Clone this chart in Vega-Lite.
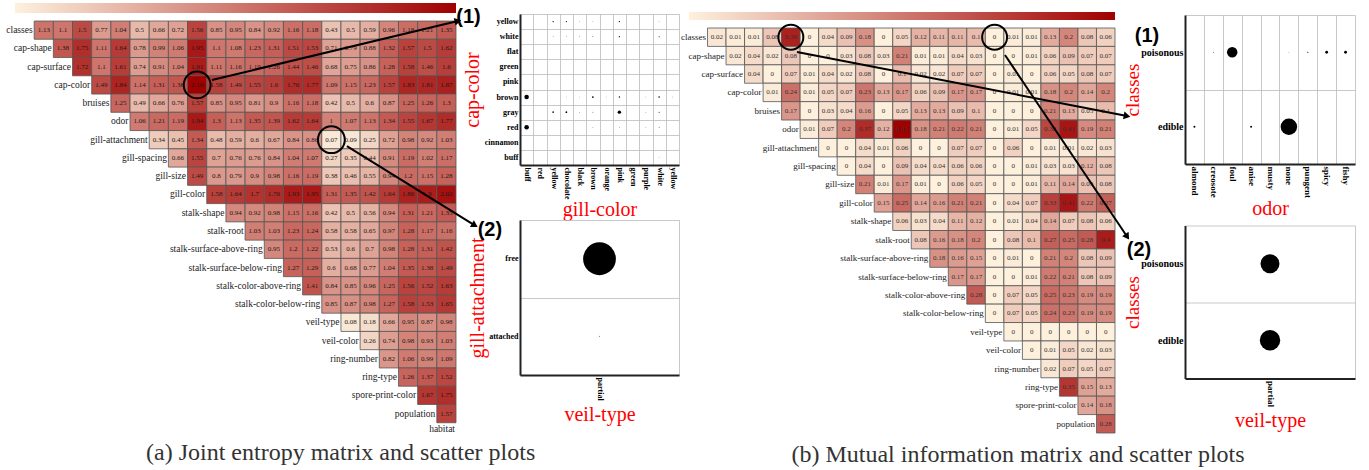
{
"$schema": "https://vega.github.io/schema/vega-lite/v6.json",
"background": "white",
"padding": {"left": 6, "top": 1, "right": 5, "bottom": 2},
"autosize": {"type": "pad"},
"config": {
  "view": {"stroke": null},
  "font": "Liberation Serif",
  "axis": {"labelFont": "Liberation Serif", "labelFontWeight": "bold", "labelColor": "black", "titleFont": "Liberation Serif", "titleFontWeight": "normal", "titleFontSize": 20, "titleColor": "#ff0000", "ticks": false, "domainColor": "#222", "domainWidth": 2, "grid": true, "gridColor": "#bbbbbb", "gridWidth": 0.8, "tickBand": "extent", "labelPadding": 2}
},
"datasets": {
  "names": [{"i":0,"n":"classes"},{"i":1,"n":"cap-shape"},{"i":2,"n":"cap-surface"},{"i":3,"n":"cap-color"},{"i":4,"n":"bruises"},{"i":5,"n":"odor"},{"i":6,"n":"gill-attachment"},{"i":7,"n":"gill-spacing"},{"i":8,"n":"gill-size"},{"i":9,"n":"gill-color"},{"i":10,"n":"stalk-shape"},{"i":11,"n":"stalk-root"},{"i":12,"n":"stalk-surface-above-ring"},{"i":13,"n":"stalk-surface-below-ring"},{"i":14,"n":"stalk-color-above-ring"},{"i":15,"n":"stalk-color-below-ring"},{"i":16,"n":"veil-type"},{"i":17,"n":"veil-color"},{"i":18,"n":"ring-number"},{"i":19,"n":"ring-type"},{"i":20,"n":"spore-print-color"},{"i":21,"n":"population"},{"i":22,"n":"habitat"}],
  "hlA": [{"r":3,"c":9},{"r":6,"c":16}],
  "hlB": [{"r":0,"c":5},{"r":0,"c":16}],
  "barA": [{"lo":0,"hi":2.16}],
  "barB": [{"lo":0,"hi":0.45}],
  "arrA": [{"k":1,"x":10.27,"y":3.23,"x2":23.1,"y2":0.0},{"k":2,"x":17.31,"y":6.85,"x2":23.98,"y2":11.19}],
  "arrB": [{"k":1,"x":5.83,"y":1.3,"x2":23.65,"y2":4.78},{"k":2,"x":17.06,"y":1.47,"x2":23.66,"y2":11.34}],
  "jeA": [
{"r":0,"c":1,"v":1.13},{"r":0,"c":2,"v":1.1},{"r":0,"c":3,"v":1.5},{"r":0,"c":4,"v":0.77},{"r":0,"c":5,"v":1.04},{"r":0,"c":6,"v":0.5},{"r":0,"c":7,"v":0.66},{"r":0,"c":8,"v":0.72},{"r":0,"c":9,"v":1.56},{"r":0,"c":10,"v":0.85},{"r":0,"c":11,"v":0.95},{"r":0,"c":12,"v":0.84},{"r":0,"c":13,"v":0.92},{"r":0,"c":14,"v":1.16},{"r":0,"c":15,"v":1.18},{"r":0,"c":16,"v":0.43},{"r":0,"c":17,"v":0.5},{"r":0,"c":18,"v":0.59},{"r":0,"c":19,"v":0.96},{"r":0,"c":20,"v":1.18},{"r":0,"c":21,"v":1.21},{"r":0,"c":22,"v":1.35},
{"r":1,"c":2,"v":1.38},{"r":1,"c":3,"v":1.75},{"r":1,"c":4,"v":1.11},{"r":1,"c":5,"v":1.64},{"r":1,"c":6,"v":0.78},{"r":1,"c":7,"v":0.99},{"r":1,"c":8,"v":1.06},{"r":1,"c":9,"v":1.95},{"r":1,"c":10,"v":1.1},{"r":1,"c":11,"v":1.08},{"r":1,"c":12,"v":1.23},{"r":1,"c":13,"v":1.31},{"r":1,"c":14,"v":1.51},{"r":1,"c":15,"v":1.53},{"r":1,"c":16,"v":0.71},{"r":1,"c":17,"v":0.79},{"r":1,"c":18,"v":0.88},{"r":1,"c":19,"v":1.32},{"r":1,"c":20,"v":1.57},{"r":1,"c":21,"v":1.5},{"r":1,"c":22,"v":1.62},
{"r":2,"c":3,"v":1.72},{"r":2,"c":4,"v":1.1},{"r":2,"c":5,"v":1.61},{"r":2,"c":6,"v":0.74},{"r":2,"c":7,"v":0.91},{"r":2,"c":8,"v":1.04},{"r":2,"c":9,"v":1.91},{"r":2,"c":10,"v":1.11},{"r":2,"c":11,"v":1.16},{"r":2,"c":12,"v":1.19},{"r":2,"c":13,"v":1.26},{"r":2,"c":14,"v":1.44},{"r":2,"c":15,"v":1.46},{"r":2,"c":16,"v":0.68},{"r":2,"c":17,"v":0.75},{"r":2,"c":18,"v":0.86},{"r":2,"c":19,"v":1.28},{"r":2,"c":20,"v":1.58},{"r":2,"c":21,"v":1.46},{"r":2,"c":22,"v":1.6},
{"r":3,"c":4,"v":1.49},{"r":3,"c":5,"v":1.84},{"r":3,"c":6,"v":1.14},{"r":3,"c":7,"v":1.31},{"r":3,"c":8,"v":1.38},{"r":3,"c":9,"v":2.16},{"r":3,"c":10,"v":1.58},{"r":3,"c":11,"v":1.49},{"r":3,"c":12,"v":1.55},{"r":3,"c":13,"v":1.6},{"r":3,"c":14,"v":1.76},{"r":3,"c":15,"v":1.77},{"r":3,"c":16,"v":1.09},{"r":3,"c":17,"v":1.15},{"r":3,"c":18,"v":1.23},{"r":3,"c":19,"v":1.57},{"r":3,"c":20,"v":1.83},{"r":3,"c":21,"v":1.81},{"r":3,"c":22,"v":1.87},
{"r":4,"c":5,"v":1.25},{"r":4,"c":6,"v":0.49},{"r":4,"c":7,"v":0.66},{"r":4,"c":8,"v":0.76},{"r":4,"c":9,"v":1.57},{"r":4,"c":10,"v":0.85},{"r":4,"c":11,"v":0.95},{"r":4,"c":12,"v":0.81},{"r":4,"c":13,"v":0.9},{"r":4,"c":14,"v":1.16},{"r":4,"c":15,"v":1.18},{"r":4,"c":16,"v":0.42},{"r":4,"c":17,"v":0.5},{"r":4,"c":18,"v":0.6},{"r":4,"c":19,"v":0.87},{"r":4,"c":20,"v":1.25},{"r":4,"c":21,"v":1.26},{"r":4,"c":22,"v":1.3},
{"r":5,"c":6,"v":1.06},{"r":5,"c":7,"v":1.21},{"r":5,"c":8,"v":1.19},{"r":5,"c":9,"v":1.94},{"r":5,"c":10,"v":1.3},{"r":5,"c":11,"v":1.13},{"r":5,"c":12,"v":1.35},{"r":5,"c":13,"v":1.39},{"r":5,"c":14,"v":1.62},{"r":5,"c":15,"v":1.64},{"r":5,"c":16,"v":1},{"r":5,"c":17,"v":1.07},{"r":5,"c":18,"v":1.13},{"r":5,"c":19,"v":1.34},{"r":5,"c":20,"v":1.55},{"r":5,"c":21,"v":1.67},{"r":5,"c":22,"v":1.77},
{"r":6,"c":7,"v":0.34},{"r":6,"c":8,"v":0.45},{"r":6,"c":9,"v":1.34},{"r":6,"c":10,"v":0.48},{"r":6,"c":11,"v":0.59},{"r":6,"c":12,"v":0.6},{"r":6,"c":13,"v":0.67},{"r":6,"c":14,"v":0.84},{"r":6,"c":15,"v":0.86},{"r":6,"c":16,"v":0.07},{"r":6,"c":17,"v":0.09},{"r":6,"c":18,"v":0.25},{"r":6,"c":19,"v":0.72},{"r":6,"c":20,"v":0.98},{"r":6,"c":21,"v":0.92},{"r":6,"c":22,"v":1.03},
{"r":7,"c":8,"v":0.66},{"r":7,"c":9,"v":1.55},{"r":7,"c":10,"v":0.7},{"r":7,"c":11,"v":0.76},{"r":7,"c":12,"v":0.76},{"r":7,"c":13,"v":0.84},{"r":7,"c":14,"v":1.04},{"r":7,"c":15,"v":1.07},{"r":7,"c":16,"v":0.27},{"r":7,"c":17,"v":0.35},{"r":7,"c":18,"v":0.44},{"r":7,"c":19,"v":0.91},{"r":7,"c":20,"v":1.19},{"r":7,"c":21,"v":1.02},{"r":7,"c":22,"v":1.17},
{"r":8,"c":9,"v":1.49},{"r":8,"c":10,"v":0.8},{"r":8,"c":11,"v":0.79},{"r":8,"c":12,"v":0.9},{"r":8,"c":13,"v":0.98},{"r":8,"c":14,"v":1.16},{"r":8,"c":15,"v":1.19},{"r":8,"c":16,"v":0.38},{"r":8,"c":17,"v":0.46},{"r":8,"c":18,"v":0.55},{"r":8,"c":19,"v":0.94},{"r":8,"c":20,"v":1.2},{"r":8,"c":21,"v":1.15},{"r":8,"c":22,"v":1.28},
{"r":9,"c":10,"v":1.58},{"r":9,"c":11,"v":1.64},{"r":9,"c":12,"v":1.7},{"r":9,"c":13,"v":1.76},{"r":9,"c":14,"v":1.93},{"r":9,"c":15,"v":1.95},{"r":9,"c":16,"v":1.31},{"r":9,"c":17,"v":1.35},{"r":9,"c":18,"v":1.42},{"r":9,"c":19,"v":1.64},{"r":9,"c":20,"v":1.86},{"r":9,"c":21,"v":1.9},{"r":9,"c":22,"v":2.02},
{"r":10,"c":11,"v":0.94},{"r":10,"c":12,"v":0.92},{"r":10,"c":13,"v":0.98},{"r":10,"c":14,"v":1.15},{"r":10,"c":15,"v":1.16},{"r":10,"c":16,"v":0.42},{"r":10,"c":17,"v":0.5},{"r":10,"c":18,"v":0.56},{"r":10,"c":19,"v":0.94},{"r":10,"c":20,"v":1.31},{"r":10,"c":21,"v":1.21},{"r":10,"c":22,"v":1.35},
{"r":11,"c":12,"v":1.03},{"r":11,"c":13,"v":1.03},{"r":11,"c":14,"v":1.23},{"r":11,"c":15,"v":1.24},{"r":11,"c":16,"v":0.58},{"r":11,"c":17,"v":0.58},{"r":11,"c":18,"v":0.65},{"r":11,"c":19,"v":0.97},{"r":11,"c":20,"v":1.28},{"r":11,"c":21,"v":1.17},{"r":11,"c":22,"v":1.16},
{"r":12,"c":13,"v":0.95},{"r":12,"c":14,"v":1.2},{"r":12,"c":15,"v":1.22},{"r":12,"c":16,"v":0.53},{"r":12,"c":17,"v":0.6},{"r":12,"c":18,"v":0.7},{"r":12,"c":19,"v":0.98},{"r":12,"c":20,"v":1.28},{"r":12,"c":21,"v":1.31},{"r":12,"c":22,"v":1.42},
{"r":13,"c":14,"v":1.27},{"r":13,"c":15,"v":1.29},{"r":13,"c":16,"v":0.6},{"r":13,"c":17,"v":0.68},{"r":13,"c":18,"v":0.77},{"r":13,"c":19,"v":1.04},{"r":13,"c":20,"v":1.35},{"r":13,"c":21,"v":1.38},{"r":13,"c":22,"v":1.49},
{"r":14,"c":15,"v":1.41},{"r":14,"c":16,"v":0.84},{"r":14,"c":17,"v":0.85},{"r":14,"c":18,"v":0.96},{"r":14,"c":19,"v":1.25},{"r":14,"c":20,"v":1.56},{"r":14,"c":21,"v":1.52},{"r":14,"c":22,"v":1.63},
{"r":15,"c":16,"v":0.85},{"r":15,"c":17,"v":0.87},{"r":15,"c":18,"v":0.98},{"r":15,"c":19,"v":1.27},{"r":15,"c":20,"v":1.58},{"r":15,"c":21,"v":1.53},{"r":15,"c":22,"v":1.65},
{"r":16,"c":17,"v":0.08},{"r":16,"c":18,"v":0.18},{"r":16,"c":19,"v":0.66},{"r":16,"c":20,"v":0.95},{"r":16,"c":21,"v":0.87},{"r":16,"c":22,"v":0.98},
{"r":17,"c":18,"v":0.26},{"r":17,"c":19,"v":0.74},{"r":17,"c":20,"v":0.98},{"r":17,"c":21,"v":0.93},{"r":17,"c":22,"v":1.03},
{"r":18,"c":19,"v":0.82},{"r":18,"c":20,"v":1.06},{"r":18,"c":21,"v":0.99},{"r":18,"c":22,"v":1.09},
{"r":19,"c":20,"v":1.26},{"r":19,"c":21,"v":1.37},{"r":19,"c":22,"v":1.52},
{"r":20,"c":21,"v":1.67},{"r":20,"c":22,"v":1.75},
{"r":21,"c":22,"v":1.57}
  ],
  "miB": [
{"r":0,"c":1,"v":0.02},{"r":0,"c":2,"v":0.01},{"r":0,"c":3,"v":0.01},{"r":0,"c":4,"v":0.08},{"r":0,"c":5,"v":0.39},{"r":0,"c":6,"v":0},{"r":0,"c":7,"v":0.04},{"r":0,"c":8,"v":0.09},{"r":0,"c":9,"v":0.18},{"r":0,"c":10,"v":0},{"r":0,"c":11,"v":0.05},{"r":0,"c":12,"v":0.12},{"r":0,"c":13,"v":0.11},{"r":0,"c":14,"v":0.11},{"r":0,"c":15,"v":0.1},{"r":0,"c":16,"v":0},{"r":0,"c":17,"v":0.01},{"r":0,"c":18,"v":0.01},{"r":0,"c":19,"v":0.13},{"r":0,"c":20,"v":0.2},{"r":0,"c":21,"v":0.08},{"r":0,"c":22,"v":0.06},
{"r":1,"c":2,"v":0.02},{"r":1,"c":3,"v":0.04},{"r":1,"c":4,"v":0.02},{"r":1,"c":5,"v":0.08},{"r":1,"c":6,"v":0},{"r":1,"c":7,"v":0},{"r":1,"c":8,"v":0.03},{"r":1,"c":9,"v":0.08},{"r":1,"c":10,"v":0.03},{"r":1,"c":11,"v":0.21},{"r":1,"c":12,"v":0.01},{"r":1,"c":13,"v":0.01},{"r":1,"c":14,"v":0.04},{"r":1,"c":15,"v":0.03},{"r":1,"c":16,"v":0},{"r":1,"c":17,"v":0},{"r":1,"c":18,"v":0.01},{"r":1,"c":19,"v":0.06},{"r":1,"c":20,"v":0.09},{"r":1,"c":21,"v":0.07},{"r":1,"c":22,"v":0.07},
{"r":2,"c":3,"v":0.04},{"r":2,"c":4,"v":0},{"r":2,"c":5,"v":0.07},{"r":2,"c":6,"v":0.01},{"r":2,"c":7,"v":0.04},{"r":2,"c":8,"v":0.02},{"r":2,"c":9,"v":0.08},{"r":2,"c":10,"v":0},{"r":2,"c":11,"v":0.1},{"r":2,"c":12,"v":0.02},{"r":2,"c":13,"v":0.02},{"r":2,"c":14,"v":0.07},{"r":2,"c":15,"v":0.07},{"r":2,"c":16,"v":0},{"r":2,"c":17,"v":0.01},{"r":2,"c":18,"v":0},{"r":2,"c":19,"v":0.06},{"r":2,"c":20,"v":0.05},{"r":2,"c":21,"v":0.08},{"r":2,"c":22,"v":0.07},
{"r":3,"c":4,"v":0.01},{"r":3,"c":5,"v":0.24},{"r":3,"c":6,"v":0.01},{"r":3,"c":7,"v":0.05},{"r":3,"c":8,"v":0.07},{"r":3,"c":9,"v":0.23},{"r":3,"c":10,"v":0.13},{"r":3,"c":11,"v":0.17},{"r":3,"c":12,"v":0.06},{"r":3,"c":13,"v":0.09},{"r":3,"c":14,"v":0.17},{"r":3,"c":15,"v":0.17},{"r":3,"c":16,"v":0},{"r":3,"c":17,"v":0.01},{"r":3,"c":18,"v":0.01},{"r":3,"c":19,"v":0.18},{"r":3,"c":20,"v":0.2},{"r":3,"c":21,"v":0.14},{"r":3,"c":22,"v":0.2},
{"r":4,"c":5,"v":0.17},{"r":4,"c":6,"v":0},{"r":4,"c":7,"v":0.03},{"r":4,"c":8,"v":0.04},{"r":4,"c":9,"v":0.16},{"r":4,"c":10,"v":0},{"r":4,"c":11,"v":0.05},{"r":4,"c":12,"v":0.13},{"r":4,"c":13,"v":0.13},{"r":4,"c":14,"v":0.09},{"r":4,"c":15,"v":0.1},{"r":4,"c":16,"v":0},{"r":4,"c":17,"v":0},{"r":4,"c":18,"v":0},{"r":4,"c":19,"v":0.21},{"r":4,"c":20,"v":0.13},{"r":4,"c":21,"v":0.05},{"r":4,"c":22,"v":0.1},
{"r":5,"c":6,"v":0.01},{"r":5,"c":7,"v":0.07},{"r":5,"c":8,"v":0.2},{"r":5,"c":9,"v":0.37},{"r":5,"c":10,"v":0.12},{"r":5,"c":11,"v":0.45},{"r":5,"c":12,"v":0.18},{"r":5,"c":13,"v":0.21},{"r":5,"c":14,"v":0.22},{"r":5,"c":15,"v":0.21},{"r":5,"c":16,"v":0},{"r":5,"c":17,"v":0.01},{"r":5,"c":18,"v":0.05},{"r":5,"c":19,"v":0.32},{"r":5,"c":20,"v":0.41},{"r":5,"c":21,"v":0.19},{"r":5,"c":22,"v":0.21},
{"r":6,"c":7,"v":0},{"r":6,"c":8,"v":0},{"r":6,"c":9,"v":0.04},{"r":6,"c":10,"v":0.01},{"r":6,"c":11,"v":0.06},{"r":6,"c":12,"v":0},{"r":6,"c":13,"v":0},{"r":6,"c":14,"v":0.07},{"r":6,"c":15,"v":0.07},{"r":6,"c":16,"v":0},{"r":6,"c":17,"v":0.06},{"r":6,"c":18,"v":0},{"r":6,"c":19,"v":0.01},{"r":6,"c":20,"v":0.01},{"r":6,"c":21,"v":0.02},{"r":6,"c":22,"v":0.03},
{"r":7,"c":8,"v":0},{"r":7,"c":9,"v":0.04},{"r":7,"c":10,"v":0},{"r":7,"c":11,"v":0.09},{"r":7,"c":12,"v":0.04},{"r":7,"c":13,"v":0.04},{"r":7,"c":14,"v":0.06},{"r":7,"c":15,"v":0.06},{"r":7,"c":16,"v":0},{"r":7,"c":17,"v":0},{"r":7,"c":18,"v":0.01},{"r":7,"c":19,"v":0.03},{"r":7,"c":20,"v":0.03},{"r":7,"c":21,"v":0.12},{"r":7,"c":22,"v":0.08},
{"r":8,"c":9,"v":0.21},{"r":8,"c":10,"v":0.01},{"r":8,"c":11,"v":0.17},{"r":8,"c":12,"v":0.01},{"r":8,"c":13,"v":0},{"r":8,"c":14,"v":0.06},{"r":8,"c":15,"v":0.05},{"r":8,"c":16,"v":0},{"r":8,"c":17,"v":0},{"r":8,"c":18,"v":0.01},{"r":8,"c":19,"v":0.11},{"r":8,"c":20,"v":0.14},{"r":8,"c":21,"v":0.09},{"r":8,"c":22,"v":0.08},
{"r":9,"c":10,"v":0.15},{"r":9,"c":11,"v":0.25},{"r":9,"c":12,"v":0.14},{"r":9,"c":13,"v":0.16},{"r":9,"c":14,"v":0.21},{"r":9,"c":15,"v":0.21},{"r":9,"c":16,"v":0},{"r":9,"c":17,"v":0.04},{"r":9,"c":18,"v":0.07},{"r":9,"c":19,"v":0.33},{"r":9,"c":20,"v":0.41},{"r":9,"c":21,"v":0.22},{"r":9,"c":22,"v":0.27},
{"r":10,"c":11,"v":0.06},{"r":10,"c":12,"v":0.03},{"r":10,"c":13,"v":0.04},{"r":10,"c":14,"v":0.11},{"r":10,"c":15,"v":0.12},{"r":10,"c":16,"v":0},{"r":10,"c":17,"v":0.01},{"r":10,"c":18,"v":0.04},{"r":10,"c":19,"v":0.14},{"r":10,"c":20,"v":0.07},{"r":10,"c":21,"v":0.08},{"r":10,"c":22,"v":0.06},
{"r":11,"c":12,"v":0.08},{"r":11,"c":13,"v":0.16},{"r":11,"c":14,"v":0.18},{"r":11,"c":15,"v":0.2},{"r":11,"c":16,"v":0},{"r":11,"c":17,"v":0.08},{"r":11,"c":18,"v":0.1},{"r":11,"c":19,"v":0.27},{"r":11,"c":20,"v":0.25},{"r":11,"c":21,"v":0.28},{"r":11,"c":22,"v":0.4},
{"r":12,"c":13,"v":0.18},{"r":12,"c":14,"v":0.16},{"r":12,"c":15,"v":0.15},{"r":12,"c":16,"v":0},{"r":12,"c":17,"v":0.01},{"r":12,"c":18,"v":0},{"r":12,"c":19,"v":0.21},{"r":12,"c":20,"v":0.2},{"r":12,"c":21,"v":0.08},{"r":12,"c":22,"v":0.09},
{"r":13,"c":14,"v":0.17},{"r":13,"c":15,"v":0.17},{"r":13,"c":16,"v":0},{"r":13,"c":17,"v":0},{"r":13,"c":18,"v":0.01},{"r":13,"c":19,"v":0.22},{"r":13,"c":20,"v":0.21},{"r":13,"c":21,"v":0.08},{"r":13,"c":22,"v":0.09},
{"r":14,"c":15,"v":0.28},{"r":14,"c":16,"v":0},{"r":14,"c":17,"v":0.07},{"r":14,"c":18,"v":0.05},{"r":14,"c":19,"v":0.25},{"r":14,"c":20,"v":0.23},{"r":14,"c":21,"v":0.19},{"r":14,"c":22,"v":0.19},
{"r":15,"c":16,"v":0},{"r":15,"c":17,"v":0.07},{"r":15,"c":18,"v":0.05},{"r":15,"c":19,"v":0.24},{"r":15,"c":20,"v":0.23},{"r":15,"c":21,"v":0.19},{"r":15,"c":22,"v":0.19},
{"r":16,"c":17,"v":0},{"r":16,"c":18,"v":0},{"r":16,"c":19,"v":0},{"r":16,"c":20,"v":0},{"r":16,"c":21,"v":0},{"r":16,"c":22,"v":0},
{"r":17,"c":18,"v":0},{"r":17,"c":19,"v":0.01},{"r":17,"c":20,"v":0.05},{"r":17,"c":21,"v":0.02},{"r":17,"c":22,"v":0.03},
{"r":18,"c":19,"v":0.02},{"r":18,"c":20,"v":0.07},{"r":18,"c":21,"v":0.05},{"r":18,"c":22,"v":0.07},
{"r":19,"c":20,"v":0.35},{"r":19,"c":21,"v":0.15},{"r":19,"c":22,"v":0.13},
{"r":20,"c":21,"v":0.14},{"r":20,"c":22,"v":0.18},
{"r":21,"c":22,"v":0.28}
  ],
  "a1": [
{"cc":"yellow","g":"yellow","n":320},{"cc":"yellow","g":"chocolate","n":300},{"cc":"yellow","g":"black","n":150},{"cc":"yellow","g":"brown","n":150},{"cc":"yellow","g":"pink","n":320},{"cc":"yellow","g":"white","n":150},
{"cc":"white","g":"yellow","n":150},{"cc":"white","g":"chocolate","n":150},{"cc":"white","g":"black","n":150},{"cc":"white","g":"brown","n":200},{"cc":"white","g":"pink","n":300},{"cc":"white","g":"white","n":250},
{"cc":"brown","g":"buff","n":1100},{"cc":"brown","g":"chocolate","n":150},{"cc":"brown","g":"black","n":150},{"cc":"brown","g":"brown","n":420},{"cc":"brown","g":"orange","n":150},{"cc":"brown","g":"pink","n":330},{"cc":"brown","g":"purple","n":150},{"cc":"brown","g":"white","n":380},{"cc":"brown","g":"yellow ","n":150},
{"cc":"gray","g":"yellow","n":400},{"cc":"gray","g":"chocolate","n":420},{"cc":"gray","g":"black","n":150},{"cc":"gray","g":"brown","n":200},{"cc":"gray","g":"pink","n":820},{"cc":"gray","g":"purple","n":150},{"cc":"gray","g":"white","n":250},
{"cc":"red","g":"buff","n":1100},{"cc":"red","g":"brown","n":180},{"cc":"red","g":"pink","n":180},{"cc":"red","g":"purple","n":150},{"cc":"red","g":"white","n":200},
{"cc":"buff","g":"white","n":120}
  ],
  "a2": [{"ga":"free","vt":"partial","n":7914},{"ga":"attached","vt":"partial","n":210}],
  "b1": [{"cl":"edible","o":"almond","n":400},{"cl":"edible","o":"anise","n":400},{"cl":"edible","o":"none","n":3408},{"cl":"poisonous","o":"creosote","n":192},{"cl":"poisonous","o":"fishy","n":576},{"cl":"poisonous","o":"foul","n":2160},{"cl":"poisonous","o":"musty","n":36},{"cl":"poisonous","o":"none","n":120},{"cl":"poisonous","o":"pungent","n":256},{"cl":"poisonous","o":"spicy","n":576}],
  "b2": [{"cl":"poisonous","vt":"partial","n":3916},{"cl":"edible","vt":"partial","n":4208}]
},
"spacing": 2,
"resolve": {"scale": {"color": "independent", "size": "independent", "x": "independent", "y": "independent"}},
"hconcat": [
  {
    "title": {"text": "(a) Joint entropy matrix and scatter plots", "orient": "bottom", "anchor": "middle", "font": "Liberation Serif", "fontSize": 24, "fontWeight": "normal", "color": "#333333", "offset": 0, "dx": -2},
    "spacing": -22,
    "resolve": {"scale": {"color": "independent", "size": "independent", "x": "independent", "y": "independent"}},
    "hconcat": [
      {
        "spacing": 0,
        "resolve": {"scale": {"color": "independent", "x": "independent", "y": "independent"}},
        "vconcat": [
          {"width": 1, "height": 2, "view": {"fill": "white", "stroke": null}, "data": {"values": []}, "mark": "point"},
          {
            "spacing": 5,
            "resolve": {"scale": {"color": "independent", "x": "independent", "y": "independent"}},
            "vconcat": [
              {
                "width": 441, "height": 10,
                "data": {"name": "barA"},
                "mark": {"type": "rect", "color": {"gradient": "linear", "x1": 0, "x2": 1, "y1": 0, "y2": 0, "stops": [{"offset": 0, "color": "#fdf1de"}, {"offset": 1, "color": "#a00000"}]}},
                "encoding": {
                  "x": {"field": "lo", "type": "quantitative", "scale": {"domain": [0, 2.16], "nice": false, "zero": false}, "axis": null},
                  "x2": {"field": "hi"}
                }
              },
              {
                "width": 441, "height": 420,
                "resolve": {"scale": {"x": "independent", "y": "independent"}},
                "layer": [
                  {
                    "data": {"name": "jeA"},
                    "mark": {"type": "rect", "stroke": "#555555", "strokeWidth": 0.8},
                    "encoding": {
                      "x": {"field": "c", "type": "ordinal", "scale": {"type": "band", "domain": [0,1,2,3,4,5,6,7,8,9,10,11,12,13,14,15,16,17,18,19,20,21,22], "paddingInner": 0, "paddingOuter": 0}, "axis": null},
                      "y": {"field": "r", "type": "ordinal", "scale": {"type": "band", "domain": [0,1,2,3,4,5,6,7,8,9,10,11,12,13,14,15,16,17,18,19,20,21,22], "paddingInner": 0, "paddingOuter": 0}, "axis": null},
                      "color": {"field": "v", "type": "quantitative", "scale": {"domain": [0, 2.16], "range": ["#fdf1de", "#a00000"], "interpolate": "rgb"}, "legend": null}
                    }
                  },
                  {
                    "data": {"name": "jeA"},
                    "mark": {"type": "text", "font": "Liberation Serif", "fontSize": 7, "color": "#1a1a1a"},
                    "encoding": {
                      "x": {"field": "c", "type": "ordinal", "scale": {"type": "band", "domain": [0,1,2,3,4,5,6,7,8,9,10,11,12,13,14,15,16,17,18,19,20,21,22], "paddingInner": 0, "paddingOuter": 0}, "axis": null},
                      "y": {"field": "r", "type": "ordinal", "scale": {"type": "band", "domain": [0,1,2,3,4,5,6,7,8,9,10,11,12,13,14,15,16,17,18,19,20,21,22], "paddingInner": 0, "paddingOuter": 0}, "axis": null},
                      "text": {"field": "v", "type": "quantitative", "format": "~g"}
                    }
                  },
                  {
                    "data": {"name": "names"},
                    "transform": [{"filter": "datum.i < 22"}],
                    "mark": {"type": "text", "align": "right", "baseline": "middle", "dx": -1.5, "font": "Liberation Serif", "fontSize": 9.5, "color": "#222222"},
                    "encoding": {
                      "x": {"field": "i", "type": "ordinal", "bandPosition": 1, "scale": {"type": "band", "domain": [0,1,2,3,4,5,6,7,8,9,10,11,12,13,14,15,16,17,18,19,20,21,22], "paddingInner": 0, "paddingOuter": 0}, "axis": null},
                      "y": {"field": "i", "type": "ordinal", "scale": {"type": "band", "domain": [0,1,2,3,4,5,6,7,8,9,10,11,12,13,14,15,16,17,18,19,20,21,22], "paddingInner": 0, "paddingOuter": 0}, "axis": null},
                      "text": {"field": "n", "type": "nominal"}
                    }
                  },
                  {
                    "data": {"name": "names"},
                    "transform": [{"filter": "datum.i == 22"}],
                    "mark": {"type": "text", "align": "right", "baseline": "top", "dx": -1, "dy": 1, "font": "Liberation Serif", "fontSize": 9.5, "color": "#222222"},
                    "encoding": {
                      "x": {"field": "i", "type": "ordinal", "bandPosition": 1, "scale": {"type": "band", "domain": [0,1,2,3,4,5,6,7,8,9,10,11,12,13,14,15,16,17,18,19,20,21,22], "paddingInner": 0, "paddingOuter": 0}, "axis": null},
                      "y": {"field": "i", "type": "ordinal", "bandPosition": 0, "scale": {"type": "band", "domain": [0,1,2,3,4,5,6,7,8,9,10,11,12,13,14,15,16,17,18,19,20,21,22], "paddingInner": 0, "paddingOuter": 0}, "axis": null},
                      "text": {"field": "n", "type": "nominal"}
                    }
                  },
                  {
                    "data": {"name": "hlA"},
                    "mark": {"type": "point", "shape": "circle", "filled": false, "color": "black", "strokeWidth": 2, "size": 720, "opacity": 1},
                    "encoding": {
                      "x": {"field": "c", "type": "ordinal", "scale": {"type": "band", "domain": [0,1,2,3,4,5,6,7,8,9,10,11,12,13,14,15,16,17,18,19,20,21,22], "paddingInner": 0, "paddingOuter": 0}, "axis": null},
                      "y": {"field": "r", "type": "ordinal", "scale": {"type": "band", "domain": [0,1,2,3,4,5,6,7,8,9,10,11,12,13,14,15,16,17,18,19,20,21,22], "paddingInner": 0, "paddingOuter": 0}, "axis": null}
                    }
                  },
                  {
                    "data": {"name": "arrA"},
                    "mark": {"type": "rule", "color": "black", "strokeWidth": 2},
                    "encoding": {
                      "x": {"field": "x", "type": "quantitative", "scale": {"domain": [0, 23], "nice": false, "zero": false}, "axis": null},
                      "y": {"field": "y", "type": "quantitative", "scale": {"domain": [0, 23], "nice": false, "zero": false, "reverse": true}, "axis": null},
                      "x2": {"field": "x2"},
                      "y2": {"field": "y2"}
                    }
                  },
                  {
                    "data": {"name": "arrA"},
                    "transform": [{"filter": "datum.k == 1"}],
                    "mark": {"type": "point", "shape": "triangle-up", "filled": true, "color": "black", "size": 60, "angle": 76.7, "opacity": 1},
                    "encoding": {
                      "x": {"field": "x2", "type": "quantitative", "scale": {"domain": [0, 23], "nice": false, "zero": false}, "axis": null},
                      "y": {"field": "y2", "type": "quantitative", "scale": {"domain": [0, 23], "nice": false, "zero": false, "reverse": true}, "axis": null}
                    }
                  },
                  {
                    "data": {"name": "arrA"},
                    "transform": [{"filter": "datum.k == 2"}],
                    "mark": {"type": "point", "shape": "triangle-up", "filled": true, "color": "black", "size": 60, "angle": 120.8, "opacity": 1},
                    "encoding": {
                      "x": {"field": "x2", "type": "quantitative", "scale": {"domain": [0, 23], "nice": false, "zero": false}, "axis": null},
                      "y": {"field": "y2", "type": "quantitative", "scale": {"domain": [0, 23], "nice": false, "zero": false, "reverse": true}, "axis": null}
                    }
                  }
                ]
              }
            ]
          }
        ]
      },
      {
        "spacing": 0,
        "resolve": {"scale": {"size": "independent", "x": "independent", "y": "independent"}},
        "vconcat": [
          {"width": 1, "height": 5.5, "view": {"fill": "white", "stroke": null}, "data": {"values": []}, "mark": "point"},
          {
            "spacing": -4,
            "resolve": {"scale": {"size": "independent", "x": "independent", "y": "independent"}},
            "vconcat": [
              {
                "width": 159, "height": 151,
                "title": {"text": "(1)", "anchor": "start", "font": "Liberation Sans", "fontSize": 20, "fontWeight": "bold", "color": "black", "offset": -17, "dx": -6},
                "data": {"name": "a1"},
                "mark": {"type": "circle", "color": "black", "opacity": 1},
                "encoding": {
                  "x": {"field": "g", "type": "nominal", "scale": {"type": "band", "domain": ["buff","red","yellow","chocolate","black","brown","orange","pink","green","purple","white","yellow "], "paddingInner": 0, "paddingOuter": 0}, "axis": {"title": "gill-color", "labelAngle": 90, "labelFontSize": 8, "titlePadding": 1}},
                  "y": {"field": "cc", "type": "nominal", "scale": {"type": "band", "domain": ["yellow","white","flat","green","pink","brown","gray","red","cinnamon","buff"], "paddingInner": 0, "paddingOuter": 0}, "axis": {"title": "cap-color", "labelFontSize": 8, "titlePadding": 2}},
                  "size": {"field": "n", "type": "quantitative", "scale": {"type": "pow", "exponent": 2, "domain": [0, 8124], "range": [0, 1134]}, "legend": null}
                }
              },
              {
                "width": 159, "height": 155,
                "title": {"text": "(2)", "anchor": "start", "font": "Liberation Sans", "fontSize": 20, "fontWeight": "bold", "color": "black", "offset": -24, "dx": 10},
                "data": {"name": "a2"},
                "mark": {"type": "circle", "color": "black", "opacity": 1},
                "encoding": {
                  "x": {"field": "vt", "type": "nominal", "scale": {"type": "band", "domain": ["partial"], "paddingInner": 0, "paddingOuter": 0}, "axis": {"title": "veil-type", "labelAngle": 90, "labelFontSize": 8, "titlePadding": 4}},
                  "y": {"field": "ga", "type": "nominal", "scale": {"type": "band", "domain": ["free","attached"], "paddingInner": 0, "paddingOuter": 0}, "axis": {"title": "gill-attachment", "labelFontSize": 8, "titlePadding": 1}},
                  "size": {"field": "n", "type": "quantitative", "scale": {"type": "pow", "exponent": 2, "domain": [0, 8124], "range": [0, 1134]}, "legend": null}
                }
              }
            ]
          }
        ]
      }
    ]
  },
  {
    "title": {"text": "(b) Mutual information matrix and scatter plots", "orient": "bottom", "anchor": "middle", "font": "Liberation Serif", "fontSize": 24, "fontWeight": "normal", "color": "#333333", "offset": 10},
    "spacing": -8,
    "resolve": {"scale": {"color": "independent", "size": "independent", "x": "independent", "y": "independent"}},
    "hconcat": [
      {
        "spacing": 0,
        "resolve": {"scale": {"color": "independent", "x": "independent", "y": "independent"}},
        "vconcat": [
          {"width": 1, "height": 11, "view": {"fill": "white", "stroke": null}, "data": {"values": []}, "mark": "point"},
          {
            "spacing": 0,
            "resolve": {"scale": {"color": "independent", "x": "independent", "y": "independent"}},
            "vconcat": [
              {
                "width": 426, "height": 8,
                "data": {"name": "barB"},
                "mark": {"type": "rect", "color": {"gradient": "linear", "x1": 0, "x2": 1, "y1": 0, "y2": 0, "stops": [{"offset": 0, "color": "#fdf1de"}, {"offset": 1, "color": "#a00000"}]}},
                "encoding": {
                  "x": {"field": "lo", "type": "quantitative", "scale": {"domain": [0, 0.45], "nice": false, "zero": false}, "axis": null},
                  "x2": {"field": "hi"}
                }
              },
              {
                "width": 426, "height": 405,
                "resolve": {"scale": {"x": "independent", "y": "independent"}},
                "layer": [
                  {
                    "data": {"name": "miB"},
                    "mark": {"type": "rect", "stroke": "#555555", "strokeWidth": 0.8},
                    "encoding": {
                      "x": {"field": "c", "type": "ordinal", "scale": {"type": "band", "domain": [0,1,2,3,4,5,6,7,8,9,10,11,12,13,14,15,16,17,18,19,20,21,22], "paddingInner": 0, "paddingOuter": 0}, "axis": null},
                      "y": {"field": "r", "type": "ordinal", "scale": {"type": "band", "domain": [0,1,2,3,4,5,6,7,8,9,10,11,12,13,14,15,16,17,18,19,20,21], "paddingInner": 0, "paddingOuter": 0}, "axis": null},
                      "color": {"field": "v", "type": "quantitative", "scale": {"domain": [0, 0.45], "range": ["#fdf1de", "#a00000"], "interpolate": "rgb"}, "legend": null}
                    }
                  },
                  {
                    "data": {"name": "miB"},
                    "mark": {"type": "text", "font": "Liberation Serif", "fontSize": 7, "color": "#333333"},
                    "encoding": {
                      "x": {"field": "c", "type": "ordinal", "scale": {"type": "band", "domain": [0,1,2,3,4,5,6,7,8,9,10,11,12,13,14,15,16,17,18,19,20,21,22], "paddingInner": 0, "paddingOuter": 0}, "axis": null},
                      "y": {"field": "r", "type": "ordinal", "scale": {"type": "band", "domain": [0,1,2,3,4,5,6,7,8,9,10,11,12,13,14,15,16,17,18,19,20,21], "paddingInner": 0, "paddingOuter": 0}, "axis": null},
                      "text": {"field": "v", "type": "quantitative", "format": "~g"}
                    }
                  },
                  {
                    "data": {"name": "names"},
                    "transform": [{"filter": "datum.i < 22"}],
                    "mark": {"type": "text", "align": "right", "baseline": "middle", "dx": -1.5, "font": "Liberation Serif", "fontSize": 9, "color": "#222222"},
                    "encoding": {
                      "x": {"field": "i", "type": "ordinal", "bandPosition": 1, "scale": {"type": "band", "domain": [0,1,2,3,4,5,6,7,8,9,10,11,12,13,14,15,16,17,18,19,20,21,22], "paddingInner": 0, "paddingOuter": 0}, "axis": null},
                      "y": {"field": "i", "type": "ordinal", "scale": {"type": "band", "domain": [0,1,2,3,4,5,6,7,8,9,10,11,12,13,14,15,16,17,18,19,20,21], "paddingInner": 0, "paddingOuter": 0}, "axis": null},
                      "text": {"field": "n", "type": "nominal"}
                    }
                  },
                  {
                    "data": {"name": "hlB"},
                    "mark": {"type": "point", "shape": "circle", "filled": false, "color": "black", "strokeWidth": 2, "size": 620, "opacity": 1},
                    "encoding": {
                      "x": {"field": "c", "type": "ordinal", "scale": {"type": "band", "domain": [0,1,2,3,4,5,6,7,8,9,10,11,12,13,14,15,16,17,18,19,20,21,22], "paddingInner": 0, "paddingOuter": 0}, "axis": null},
                      "y": {"field": "r", "type": "ordinal", "scale": {"type": "band", "domain": [0,1,2,3,4,5,6,7,8,9,10,11,12,13,14,15,16,17,18,19,20,21], "paddingInner": 0, "paddingOuter": 0}, "axis": null}
                    }
                  },
                  {
                    "data": {"name": "arrB"},
                    "mark": {"type": "rule", "color": "black", "strokeWidth": 2},
                    "encoding": {
                      "x": {"field": "x", "type": "quantitative", "scale": {"domain": [0, 23], "nice": false, "zero": false}, "axis": null},
                      "y": {"field": "y", "type": "quantitative", "scale": {"domain": [0, 22], "nice": false, "zero": false, "reverse": true}, "axis": null},
                      "x2": {"field": "x2"},
                      "y2": {"field": "y2"}
                    }
                  },
                  {
                    "data": {"name": "arrB"},
                    "transform": [{"filter": "datum.k == 1"}],
                    "mark": {"type": "point", "shape": "triangle-up", "filled": true, "color": "black", "size": 60, "angle": 100.9, "opacity": 1},
                    "encoding": {
                      "x": {"field": "x2", "type": "quantitative", "scale": {"domain": [0, 23], "nice": false, "zero": false}, "axis": null},
                      "y": {"field": "y2", "type": "quantitative", "scale": {"domain": [0, 22], "nice": false, "zero": false, "reverse": true}, "axis": null}
                    }
                  },
                  {
                    "data": {"name": "arrB"},
                    "transform": [{"filter": "datum.k == 2"}],
                    "mark": {"type": "point", "shape": "triangle-up", "filled": true, "color": "black", "size": 60, "angle": 146.2, "opacity": 1},
                    "encoding": {
                      "x": {"field": "x2", "type": "quantitative", "scale": {"domain": [0, 23], "nice": false, "zero": false}, "axis": null},
                      "y": {"field": "y2", "type": "quantitative", "scale": {"domain": [0, 22], "nice": false, "zero": false, "reverse": true}, "axis": null}
                    }
                  }
                ]
              }
            ]
          }
        ]
      },
      {
        "spacing": 0,
        "resolve": {"scale": {"size": "independent", "x": "independent", "y": "independent"}},
        "vconcat": [
          {"width": 1, "height": 8.5, "view": {"fill": "white", "stroke": null}, "data": {"values": []}, "mark": "point"},
          {
            "spacing": 1.5,
            "resolve": {"scale": {"size": "independent", "x": "independent", "y": "independent"}},
            "vconcat": [
              {
                "width": 170, "height": 149,
                "title": {"text": "(1)", "anchor": "start", "font": "Liberation Sans", "fontSize": 20, "fontWeight": "bold", "color": "black", "offset": -35.5, "dx": 11},
                "data": {"name": "b1"},
                "mark": {"type": "circle", "color": "black", "opacity": 1},
                "encoding": {
                  "x": {"field": "o", "type": "nominal", "scale": {"type": "band", "domain": ["almond","creosote","foul","anise","musty","none","pungent","spicy","fishy"], "paddingInner": 0, "paddingOuter": 0}, "axis": {"title": "odor", "labelAngle": 90, "labelFontSize": 9, "titlePadding": 1}},
                  "y": {"field": "cl", "type": "nominal", "scale": {"type": "band", "domain": ["poisonous","edible"], "paddingInner": 0, "paddingOuter": 0}, "axis": {"title": "classes", "labelFontSize": 10, "titlePadding": -2, "titleFontSize": 19}},
                  "size": {"field": "n", "type": "quantitative", "scale": {"type": "pow", "exponent": 2, "domain": [0, 8124], "range": [0, 1550]}, "legend": null}
                }
              },
              {
                "width": 170, "height": 153,
                "title": {"text": "(2)", "anchor": "start", "font": "Liberation Sans", "fontSize": 20, "fontWeight": "bold", "color": "black", "offset": -39.5, "dx": 3},
                "data": {"name": "b2"},
                "mark": {"type": "circle", "color": "black", "opacity": 1},
                "encoding": {
                  "x": {"field": "vt", "type": "nominal", "scale": {"type": "band", "domain": ["partial"], "paddingInner": 0, "paddingOuter": 0}, "axis": {"title": "veil-type", "labelAngle": 90, "labelFontSize": 9, "titlePadding": 4}},
                  "y": {"field": "cl", "type": "nominal", "scale": {"type": "band", "domain": ["poisonous","edible"], "paddingInner": 0, "paddingOuter": 0}, "axis": {"title": "classes", "labelFontSize": 10, "titlePadding": -2, "titleFontSize": 19}},
                  "size": {"field": "n", "type": "quantitative", "scale": {"type": "pow", "exponent": 2, "domain": [0, 8124], "range": [0, 1550]}, "legend": null}
                }
              }
            ]
          }
        ]
      }
    ]
  }
]
}
